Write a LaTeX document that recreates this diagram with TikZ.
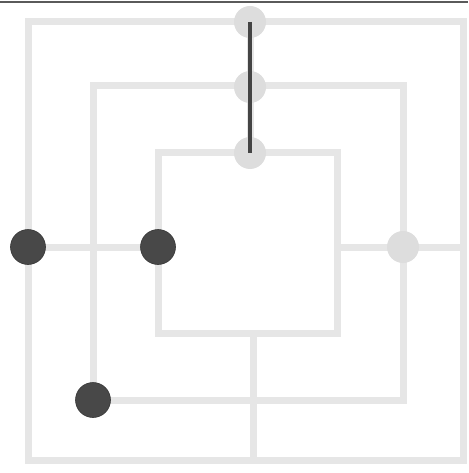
\documentclass[tikz,border=0pt]{standalone}
\usetikzlibrary{positioning,calc}
\definecolor{boardc}{RGB}{230,230,230}
\definecolor{spotc}{RGB}{221,221,221}
\definecolor{piecec}{RGB}{72,72,72}
\definecolor{millc}{RGB}{68,68,68}
\definecolor{edgec}{RGB}{90,90,90}
\tikzset{
  board/.style={draw=boardc, line width=7pt, line join=miter},
  spot/.style={circle, fill=spotc, minimum size=32pt, inner sep=0pt},
  piece/.style={circle, fill=piecec, draw=piecec!75!black, line width=0.6pt,
                minimum size=35pt, inner sep=0pt},
  mill/.style={draw=millc, line width=4pt},
}

\begin{document}
\begin{tikzpicture}[x=1pt,y=-1pt]
\useasboundingbox (0,0) rectangle (468,473);

% ------------------------------------------------- frame edge
\draw[edgec, line width=1.5pt] (0,2) -- (468,2);

% ------------------------------------------------- board
\draw[board] (28,22) rectangle (463,460);
\draw[board] (93,86) rectangle (403,400);
\draw[board] (158,153) rectangle (337,333);
\draw[board] (250,22) -- (250,153);
\draw[board] (28,247) -- (158,247);
\draw[board] (337,247) -- (463,247);
\draw[board] (253,333) -- (253,460);

% ------------------------------------------------- empty spots
\node[spot] (top1) at (250,22) {};
\node[spot] (top2) at (250,87) {};
\node[spot] (top3) at (250,153) {};
\node[spot] (right2) at (403,247) {};

% ------------------------------------------------- pieces
\node[piece] (left1) at (28,247) {};
\node[piece] (left3) at (158,247) {};
\node[piece] (low2) at (93,400) {};

% ------------------------------------------------- mill
\draw[mill] (top1.center) -- (top3.center);

\end{tikzpicture}
\end{document}
